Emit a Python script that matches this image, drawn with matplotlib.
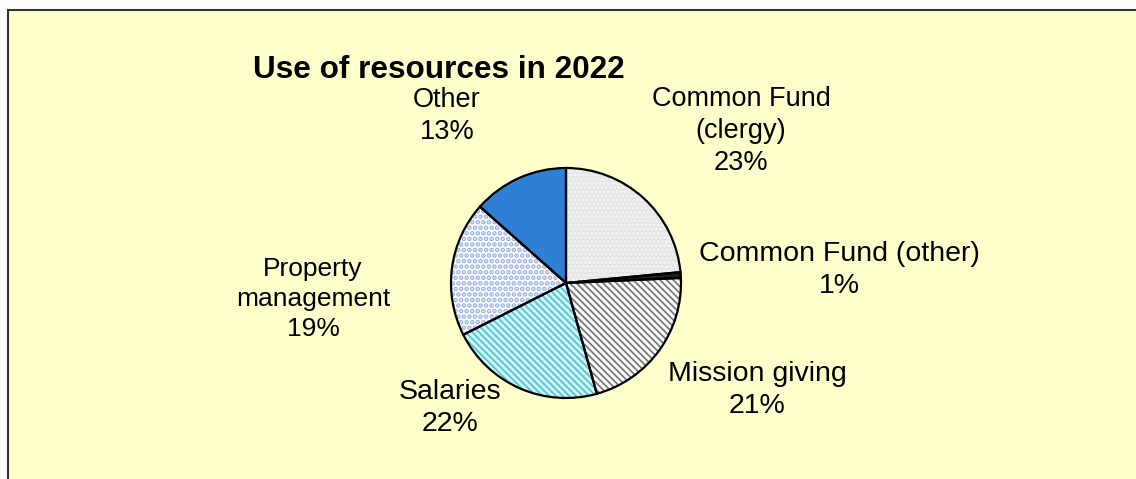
import matplotlib
matplotlib.use("Agg")
import matplotlib.pyplot as plt
from matplotlib.patches import Rectangle

# data
categories = ["Common Fund\n(clergy)", "Common Fund (other)", "Mission giving",
              "Salaries", "Property\nmanagement", "Other"]
values = [23.4, 0.8, 21.3, 21.8, 18.9, 13.4]

# look of each slice
face_colors = ["#e4e4e4", "#202020", "#ffffff", "#d6f3f6", "#ffffff", "#2f7fd6"]
hatch_colors = ["#f6f6f6", "#202020", "#7a7a7a", "#4cc8d6", "#9ab0e4", "#2f7fd6"]
hatches = ["....", None, "\\\\\\\\\\", "\\\\\\\\\\", "...", None]
hatch_lw = [1.6, 1.0, 1.3, 1.3, 2.4, 1.0]

# label anchors in pixels (x, y from top) and sizes
label_pos = [(741, 131), (839, 270), (757, 390), (450, 408), (313, 299), (447, 116)]
label_size = [19.5, 20.5, 20.5, 20.5, 19, 19.5]

W, H = 1136, 479
fig = plt.figure(figsize=(W / 100, H / 100), dpi=100)
fig.patch.set_facecolor("white")
ax = fig.add_axes([0, 0, 1, 1])
ax.set_xlim(0, W)
ax.set_ylim(0, H)
ax.axis("off")

# yellow chart area with frame on left and top
ax.add_patch(Rectangle((7.5, -5), W, H - 10 + 5, facecolor="#ffffcc",
                       edgecolor="#333333", lw=1.5, zorder=0))

center = (566, H - 283)
radius = 115

wedges, _ = ax.pie(values, startangle=90, counterclock=False, center=center,
                   radius=radius, frame=True, colors=face_colors,
                   wedgeprops=dict(linewidth=0))
for w, hc, h, hl in zip(wedges, hatch_colors, hatches, hatch_lw):
    w.set_edgecolor(hc)
    if h:
        w.set_hatch(h)
        if hasattr(w, "set_hatch_linewidth"):
            w.set_hatch_linewidth(hl)
    w.set_zorder(2)

# black outlines on top
outl, _ = ax.pie(values, startangle=90, counterclock=False, center=center,
                 radius=radius, frame=True,
                 wedgeprops=dict(facecolor="none", edgecolor="black", linewidth=1.6))
for w in outl:
    w.set_zorder(3)

ax.set_xlim(0, W)
ax.set_ylim(0, H)
ax.set_aspect("auto")

total = sum(values)
for name, v, (px, py), fs in zip(categories, values, label_pos, label_size):
    ax.text(px, H - py, f"{name}\n{v / total * 100:.0f}%", ha="center", va="center",
            fontsize=fs, family="Liberation Sans", linespacing=1.3, zorder=4)

ax.text(439, H - 70, "Use of resources in 2022", ha="center", va="center",
        fontsize=22.7, fontweight="bold", family="Liberation Sans", zorder=4)

fig.savefig("out.png", dpi=100, facecolor=fig.get_facecolor())
